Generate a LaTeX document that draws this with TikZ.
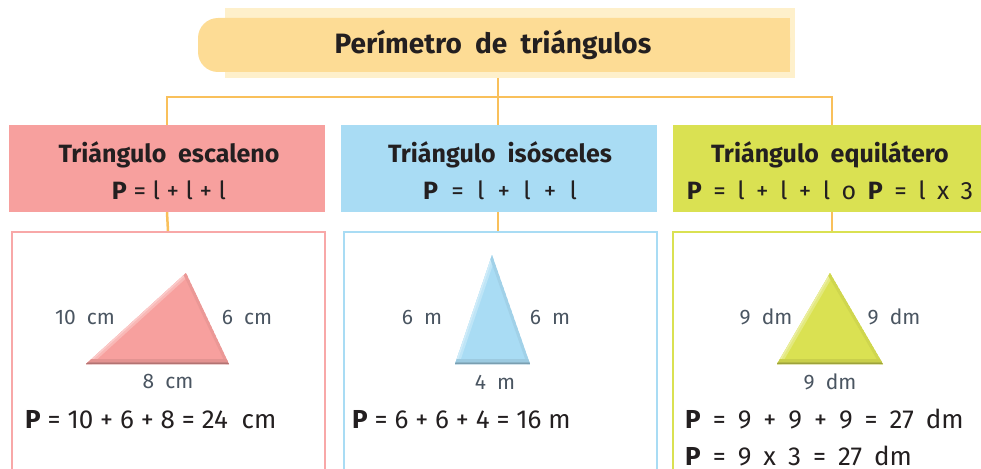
\documentclass[tikz,border=0pt]{standalone}
\usepackage{fontspec}
\setmainfont{Fira Sans}
\definecolor{pinkf}{HTML}{F7A09E}
\definecolor{pinkb}{HTML}{F8A8A8}
\definecolor{bluef}{HTML}{A9DCF4}
\definecolor{greenf}{HTML}{DAE152}
\definecolor{bannerin}{HTML}{FDDC95}
\definecolor{bannerout}{HTML}{FEF0CB}
\definecolor{conn}{HTML}{F9C05B}
\definecolor{txt}{HTML}{231F20}
\definecolor{lblc}{HTML}{4A5561}
\newcommand{\gs}{\hspace{11.5pt}}
\newcommand{\fs}{\hspace{12pt}}
\begin{document}
\begin{tikzpicture}[x=1pt,y=-1pt,
  conline/.style={draw=conn,line width=2.5pt},
  headbox/.style={minimum width=316pt,minimum height=87pt,inner sep=0pt},
  headtxt/.style={font=\fontsize{25}{37}\selectfont\bfseries,text=txt,align=center,inner sep=0pt},
  contbox/.style={minimum width=313pt,minimum height=250pt,line width=2pt,inner sep=0pt},
  lbl/.style={font=\fontsize{21}{22}\selectfont,text=lblc,inner sep=0pt},
  form/.style={font=\fontsize{26}{28}\selectfont,text=txt,inner sep=0pt,anchor=west},
]
\useasboundingbox (0,0) rectangle (981,468);
% title banner
\node[fill=bannerout,minimum width=570pt,minimum height=70pt,inner sep=0pt] (titlebg) at (510,43) {};
\fill[bannerin,rounded corners=20pt] (198,18) rectangle (790,72);
\fill[bannerin] (500,18) rectangle (790,72);
\node[font=\fontsize{28}{30}\selectfont\bfseries,text=txt] (title) at (493,45) {Perímetro\ \ de\ \ triángulos};
% headers
\node[headbox,fill=pinkf] (h1) at (167,168.5) {};
\node[headbox,fill=bluef] (h2) at (499,168.5) {};
\node[headbox,fill=greenf,minimum width=318pt] (h3) at (832,168.5) {};
\node[headtxt] (h1t) at (169,171) {Triángulo\ \ escaleno\\\mdseries\textbf{P} = l + l + l};
\node[headtxt] (h2t) at (500,171) {Triángulo\ \ isósceles\\\mdseries\textbf{P}\ \ =\ \ l\ \ +\ \ l\ \ +\ \ l};
\node[headtxt] (h3t) at (830,171) {Triángulo\ \ equilátero\\\mdseries\textbf{P}\gs=\gs l\gs+\gs l\gs+\gs l\gs o\gs\textbf{P}\gs=\gs l\gs x\gs 3};
% content boxes
\node[contbox,draw=pinkb] (c1) at (168,357) {};
\node[contbox,draw=bluef] (c2) at (500,357) {};
\node[contbox,draw=greenf,minimum width=318pt] (c3) at (832,357) {};
% connectors
\coordinate (j) at (498,97);
\draw[conline] (j |- titlebg.south) -- (j);
\draw[conline] (h1.north) |- (j) -| (h3.north);
\draw[conline] (j) -- (j |- h2.north);
\draw[conline] (h1.south) -- (c1.north);
\draw[conline] (j |- h2.south) -- (j |- c2.north);
\draw[conline] (h3.south) -- (c3.north);
% triangles
\foreach \ax/\ay/\bx/\by/\cx/\cy/\col in {86/364/186/273/229/364/pinkf, 455/364/492/255/530/364/bluef, 777/364/830/273/883/364/greenf}{
  \begin{scope}
    \clip (\ax,\ay) -- (\bx,\by) -- (\cx,\cy) -- cycle;
    \fill[\col] (\ax,\ay) -- (\bx,\by) -- (\cx,\cy) -- cycle;
    \draw[line width=8pt,white!25!\col] (\ax,\ay) -- (\bx,\by);
    \draw[line width=3pt,white!45!\col] (\ax,\ay) -- (\bx,\by);
    \draw[line width=6pt,black!5!\col] (\bx,\by) -- (\cx,\cy);
    \draw[line width=10pt,black!8!\col] (\ax,\ay) -- (\cx,\cy);
    \draw[line width=5pt,black!18!\col] (\ax,\ay) -- (\cx,\cy);
    \draw[line width=2pt,black!28!\col] (\ax,\ay) -- (\cx,\cy);
  \end{scope}
}
% labels
\node[lbl] (l1a) at (85,317) {10\ \ cm};
\node[lbl] (l1b) at (247,317) {6\ \ cm};
\node[lbl] (l1c) at (168,381) {8\ \ cm};
\node[lbl] (l2a) at (422,317) {6\ \ m};
\node[lbl] (l2b) at (550,317) {6\ \ m};
\node[lbl] (l2c) at (495,382) {4\ \ m};
\node[lbl] (l3a) at (766,317) {9\ \ dm};
\node[lbl] (l3b) at (894,317) {9\ \ dm};
\node[lbl] (l3c) at (830,382) {9\ \ dm};
% formulas
\node[form] (f1) at (25,420) {\textbf{P} = 10 + 6 + 8 = 24\ \ cm};
\node[form] (f2) at (352,420) {\textbf{P}\ = 6 + 6 + 4 = 16\ m};
\node[form] (f3) at (685,419) {\textbf{P}\fs=\fs 9\fs+\fs 9\fs+\fs 9\fs=\fs 27\fs dm};
\node[form] (f4) at (685,456) {\textbf{P}\fs=\fs 9\fs x\fs 3\fs=\fs 27\fs dm};
\end{tikzpicture}
\end{document}
